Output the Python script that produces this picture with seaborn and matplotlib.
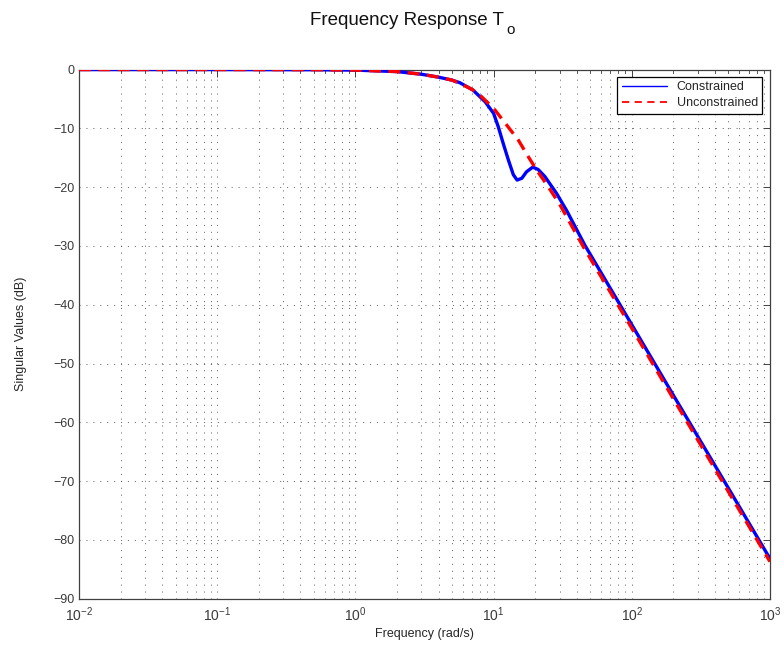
import matplotlib
matplotlib.use("Agg")
import matplotlib.pyplot as plt
import seaborn as sns
import pandas as pd
from matplotlib.ticker import LogLocator, NullFormatter
from matplotlib.lines import Line2D

# ---- data ----
freq_constrained = [0.01, 0.1, 0.5, 1, 2, 3, 4, 5, 5.7, 7.1, 8.7, 10, 10.8, 11.75, 12.8,
                    13.9, 14.8, 16.0, 17.3, 19.2, 21.0, 23.5, 28.6, 33.8, 45.8, 100, 200,
                    500, 1000]
mag_constrained = [0, 0, -0.03, -0.1, -0.35, -0.8, -1.3, -1.8, -2.24, -3.5, -5.5, -7.45,
                   -9.7, -12.6, -15.4, -17.9, -18.8, -18.5, -17.4, -16.6, -17.0, -18.2,
                   -21.1, -24.0, -29.9, -43.4, -55.4, -71.2, -83.2]

freq_unconstrained = [0.01, 0.1, 0.5, 1, 2, 3, 4, 5, 6, 7, 8, 10, 12.4, 15.1, 17.8, 20.5,
                      24.8, 30.2, 45, 100, 200, 500, 1000]
mag_unconstrained = [0, 0, -0.03, -0.1, -0.35, -0.8, -1.3, -1.8, -2.6, -3.4, -4.4, -6.6,
                     -9.4, -12.0, -14.8, -17.1, -19.9, -23.0, -30.3, -44.0, -56.0, -71.8,
                     -83.7]

series_names = ["Constrained", "Unconstrained"]
yticks = list(range(-90, 1, 10))

# ---- style ----
sns.set_style("white")
plt.rcParams["font.family"] = ["Liberation Sans", "DejaVu Sans"]
plt.rcParams["mathtext.fontset"] = "custom"
plt.rcParams["mathtext.rm"] = "Liberation Sans"
plt.rcParams["mathtext.it"] = "Liberation Sans:italic"

fig = plt.figure(figsize=(7.84, 6.48), dpi=100)
ax = fig.add_axes([0.1008, 0.0761, 0.8813, 0.8166])

df_c = pd.DataFrame({"freq": freq_constrained, "mag": mag_constrained})
df_u = pd.DataFrame({"freq": freq_unconstrained, "mag": mag_unconstrained})

sns.lineplot(data=df_c, x="freq", y="mag", ax=ax, color="#0000ff", lw=2.4,
             estimator=None, sort=False, zorder=3)
sns.lineplot(data=df_u, x="freq", y="mag", ax=ax, color="#ff0000", lw=2.4,
             estimator=None, sort=False, zorder=4)
ax.lines[-1].set_dashes((3.6, 2.2))

ax.set_xscale("log")
ax.set_xlim(1e-2, 1e3)
ax.set_ylim(-90, 0)
ax.set_yticks(yticks)
ax.xaxis.set_major_locator(LogLocator(base=10, numticks=10))
ax.xaxis.set_minor_locator(LogLocator(base=10, subs=range(2, 10), numticks=100))
ax.xaxis.set_minor_formatter(NullFormatter())

tick_col = "#404040"
for s in ax.spines.values():
    s.set_color("#404040")
    s.set_linewidth(0.9)
    s.set_visible(True)
ax.tick_params(axis="both", which="both", direction="in", top=True, right=True,
               colors=tick_col, labelcolor="#3a3a3a")
ax.tick_params(axis="y", labelsize=9)
ax.tick_params(axis="x", labelsize=10, pad=5)
ax.tick_params(which="major", length=5, width=0.7)
ax.tick_params(which="minor", length=2.5, width=0.6)

grid_kw = dict(color="#555555", linewidth=0.6, linestyle=(0, (1.3, 7.0)))
ax.grid(True, which="major", axis="both", **grid_kw)
ax.grid(True, which="minor", axis="x", **grid_kw)
ax.set_axisbelow(True)

ax.set_xlabel("Frequency (rad/s)", fontsize=9, labelpad=3)
ax.set_ylabel("Singular Values (dB)", fontsize=9, labelpad=19)

# title with a MATLAB-like, strongly lowered subscript
fig.text(407 / 784, 1 - 25 / 648, "Frequency Response T", fontsize=13.5, ha="center",
         va="baseline", color="#111111")
fig.text(506 / 784, 1 - 34 / 648, "o", fontsize=11, ha="left",
         va="baseline", color="#111111")

handles = [Line2D([], [], color="#0000ff", lw=1.0),
           Line2D([], [], color="#ff0000", lw=1.3, dashes=(4, 3))]
leg = ax.legend(handles, series_names, loc="upper right", fontsize=9,
                fancybox=False, framealpha=1, edgecolor="black", handlelength=3.6,
                borderaxespad=0.6, borderpad=0.35, labelspacing=0.3, handletextpad=0.8)
leg.get_frame().set_linewidth(0.9)

fig.savefig("out.png", dpi=100)
